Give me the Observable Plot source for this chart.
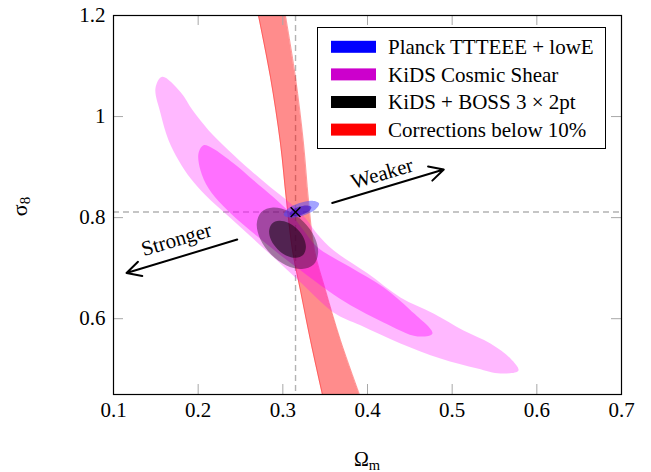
<!DOCTYPE html>
<html><head><meta charset="utf-8">
<script src="https://cdn.jsdelivr.net/npm/d3@7"></script>
<script src="https://cdn.jsdelivr.net/npm/@observablehq/plot@0.6"></script>
<style>body{margin:0;background:#fff}#chart{width:651px;height:472px}
#chart svg text{font-family:"Liberation Serif","Times New Roman",serif}</style>
</head><body><div id="chart"></div>
<script>
// ---- data (Ωm, σ8) ----
const xTicks = [0.1, 0.2, 0.3, 0.4, 0.5, 0.6, 0.7];
const yTicks = [0.6, 0.8, 1, 1.2];
const xInnerTicks = [0.2, 0.3, 0.4, 0.5, 0.6];
const yInnerTicks = [0.6, 0.8, 1];

const planckBest = [{om: 0.315, s8: 0.811}];

// KiDS cosmic shear, outer contour
const kidsOuter = [
  [0.1575,1.0787],[0.1791,1.0484],[0.1933,1.0128],[0.2122,0.9731],[0.2358,0.9335],
  [0.2618,0.8939],[0.2854,0.8602],[0.3090,0.8285],[0.3268,0.7988],[0.3409,0.7671],
  [0.3598,0.7354],[0.4000,0.6898],[0.4389,0.6422],[0.4779,0.6105],[0.5134,0.5768],
  [0.5452,0.5511],[0.5689,0.5214],[0.5783,0.4976],[0.5570,0.4916],[0.5299,0.5016],
  [0.4862,0.5214],[0.4389,0.5511],[0.3917,0.5868],[0.3598,0.6125],[0.3208,0.6720],
  [0.2890,0.7215],[0.2618,0.7631],[0.2358,0.8027],[0.2087,0.8443],[0.1909,0.8780],
  [0.1768,0.9137],[0.1650,0.9533],[0.1555,1.0068],[0.1496,1.0563]
];
// KiDS cosmic shear, inner contour
const kidsInner = [
  [0.2063,0.9434],[0.2169,0.9375],[0.2417,0.9077],[0.2653,0.8741],[0.2890,0.8404],
  [0.3090,0.8087],[0.3244,0.7750],[0.3409,0.7413],[0.3799,0.7017],[0.4189,0.6621],
  [0.4508,0.6165],[0.4767,0.5709],[0.4590,0.5650],[0.4189,0.5927],[0.3799,0.6264],
  [0.3527,0.6561],[0.3208,0.6957],[0.2972,0.7255],[0.2712,0.7611],[0.2500,0.7908],
  [0.2287,0.8245],[0.2122,0.8582],[0.2027,0.8939],[0.2004,0.9276]
];
// Corrections below 10% band: σ8 rows with left/right Ωm edges
const redS8    = [1.2, 1.0781, 0.9474, 0.8344, 0.7354, 0.6561, 0.5570, 0.45];
const redLeft  = [0.2712, 0.2854, 0.2972, 0.3043, 0.3114, 0.3208, 0.3327, 0.3468];
const redRight = [0.3031, 0.3149, 0.3244, 0.3303, 0.3374, 0.3504, 0.3681, 0.3905];
// KiDS + BOSS 3x2pt
const kbOuter = [
  [0.3364,0.7072],[0.3226,0.6983],[0.3043,0.7052],[0.2862,0.7268],[0.2734,0.7572],[0.2692,0.7879],
  [0.2746,0.8111],[0.2884,0.8200],[0.3067,0.8130],[0.3247,0.7914],[0.3376,0.7611],[0.3417,0.7304]
];
const kbInner = [
  [0.3239,0.7262],[0.3155,0.7207],[0.3045,0.7247],[0.2938,0.7375],[0.2861,0.7556],[0.2838,0.7740],
  [0.2871,0.7881],[0.2955,0.7936],[0.3064,0.7897],[0.3172,0.7768],[0.3249,0.7587],[0.3272,0.7403]
];
// Planck TTTEEE + lowE
const planckOuter = [
  [0.3428,0.8279],[0.3384,0.8160],[0.3244,0.8043],[0.3090,0.8000],
  [0.3012,0.8053],[0.3056,0.8172],[0.3197,0.8289],[0.3350,0.8332]
];
const planckInner = [
  [0.3337,0.8207],[0.3311,0.8130],[0.3224,0.8057],[0.3128,0.8031],
  [0.3080,0.8066],[0.3106,0.8142],[0.3193,0.8215],[0.3289,0.8241]
];
// annotations
const arrowLabels = ["Weaker", "Stronger"];
const arrowFrom = [[0.3583,0.8291],[0.2461,0.7566]];
const arrowTo   = [[0.4901,0.8953],[0.1154,0.6904]];
const labelAt   = [[0.4173,0.8873],[0.1744,0.7566]];

const legendLabels = ["Planck TTTEEE + lowE", "KiDS Cosmic Shear", "KiDS + BOSS 3 × 2pt", "Corrections below 10%"];
const legendColors = ["#0000ff", "#cc00cc", "#000000", "#ff0000"];

// ---- build ----
const font = '"Liberation Serif", "Times New Roman", serif';
const W = 651, H = 472, mL = 113, mR = 30, mT = 15, mB = 78;
const fW = W - mL - mR, fH = H - mT - mB;

const redBand = redS8.map((s, i) => ({s8: s, lo: redLeft[i], hi: redRight[i]}));
const arrows = arrowLabels.map((l, i) => ({label: l, x1: arrowFrom[i][0], y1: arrowFrom[i][1], x2: arrowTo[i][0], y2: arrowTo[i][1], tx: labelAt[i][0], ty: labelAt[i][1]}));
const px = d => d[0], py = d => d[1];
const blob = (data, fill, op) => Plot.line(data, {x: px, y: py, curve: "catmull-rom-closed", fill, fillOpacity: op, stroke: "none"});

const chart = Plot.plot({
  width: W, height: H, marginLeft: mL, marginRight: mR, marginTop: mT, marginBottom: mB,
  style: `font-family: ${font}; font-size: 20px; background: #fff; color: #000;`,
  x: {domain: [0.1, 0.7]},
  y: {domain: [0.45, 1.2]},
  marks: [
    Plot.ruleX(planckBest, {x: "om", stroke: "#b3b3b3", strokeWidth: 1.4, strokeDasharray: "6,4"}),
    Plot.ruleY(planckBest, {y: "s8", stroke: "#b3b3b3", strokeWidth: 1.4, strokeDasharray: "6,4"}),
    Plot.areaX(redBand, {y: "s8", x1: "lo", x2: "hi", curve: "catmull-rom", fill: "#ff0000", fillOpacity: 0.45, clip: true}),
    Plot.lineX(redBand, {y: "s8", x: "lo", curve: "catmull-rom", stroke: "#ff2020", strokeOpacity: 0.45, strokeWidth: 1, clip: true}),
    Plot.lineX(redBand, {y: "s8", x: "hi", curve: "catmull-rom", stroke: "#ff2020", strokeOpacity: 0.45, strokeWidth: 1, clip: true}),
    blob(kidsOuter, "#ff00ff", 0.28),
    blob(kidsInner, "#ff00ff", 0.39),
    blob(kbOuter, "#000000", 0.36),
    blob(kbInner, "#000000", 0.5),
    blob(planckOuter, "#4848ff", 0.5),
    blob(planckInner, "#3000c8", 0.55),
    Plot.dot(planckBest, {x: "om", y: "s8", symbol: "times", r: 4.5, stroke: "#000", strokeWidth: 1.5}),
    Plot.arrow(arrows, {x1: "x1", y1: "y1", x2: "x2", y2: "y2", stroke: "#000", strokeWidth: 2, headLength: 12, headAngle: 55}),
    Plot.text(arrows, {x: "tx", y: "ty", text: "label", rotate: -16.5, fontSize: 21, fontFamily: font, fill: "#000"}),
    // inward gray ticks on all four sides
    Plot.tickX(xInnerTicks, {x: d => d, stroke: "#a8a8a8", strokeWidth: 1, insetTop: fH - 10}),
    Plot.tickX(xInnerTicks, {x: d => d, stroke: "#a8a8a8", strokeWidth: 1, insetBottom: fH - 10}),
    Plot.tickY(yInnerTicks, {y: d => d, stroke: "#a8a8a8", strokeWidth: 1, insetRight: fW - 10}),
    Plot.tickY(yInnerTicks, {y: d => d, stroke: "#a8a8a8", strokeWidth: 1, insetLeft: fW - 10}),
    Plot.axisX(xTicks, {tickSize: 0, tickPadding: 8, tickFormat: d => String(d), fontSize: 21, fontFamily: font, label: null}),
    Plot.axisY(yTicks, {tickSize: 0, tickPadding: 8, tickFormat: d => String(d), fontSize: 21, fontFamily: font, label: null}),
    Plot.frame({stroke: "#000", strokeWidth: 1.2})
  ]
});
document.getElementById("chart").appendChild(chart);

// axis titles with subscripts, and the legend box
const svg = d3.select(chart);
const yt = svg.append("text").attr("transform", "translate(27,206.5) rotate(-90)")
  .attr("text-anchor", "middle").attr("font-family", font).attr("font-size", 22);
yt.append("tspan").text("σ");
yt.append("tspan").attr("dy", 3).attr("font-size", 15).text("8");
const xt = svg.append("text").attr("x", 367).attr("y", 466)
  .attr("text-anchor", "middle").attr("font-family", font).attr("font-size", 20);
xt.append("tspan").text("Ω");
xt.append("tspan").attr("dy", 4).attr("font-size", 14.5).text("m");

const lg = svg.append("g").attr("text-anchor", "start");
lg.append("rect").attr("x", 317.5).attr("y", 27.5).attr("width", 288).attr("height", 121)
  .attr("fill", "#fff").attr("stroke", "#000").attr("stroke-width", 1);
legendLabels.forEach((l, i) => {
  const cy = 46.8 + i * 27.6;
  lg.append("rect").attr("x", 331).attr("y", cy - 6).attr("width", 45).attr("height", 12).attr("fill", legendColors[i]);
  lg.append("text").attr("x", 388).attr("y", cy).attr("dy", "0.35em").attr("text-anchor", "start")
    .attr("font-family", font).attr("font-size", 21).text(l);
});
</script></body></html>
